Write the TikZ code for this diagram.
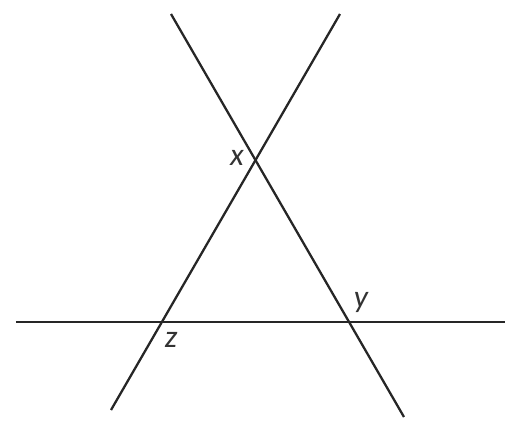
\documentclass[tikz,border=0pt]{standalone}
\usepackage{fontspec}
\setmainfont{Carlito}
\usetikzlibrary{positioning}

\begin{document}
\begin{tikzpicture}[x=0.02cm,y=-0.02cm,
    line/.style={line width=1.3pt, black!85},
    lbl/.style={font=\fontsize{18}{21}\selectfont\itshape, text=black!80, inner sep=0pt}]
        \useasboundingbox (0,0) rectangle (512,423);
        \coordinate (A1) at (171,14);
        \coordinate (A2) at (404,417);
        \coordinate (B1) at (340,14);
        \coordinate (B2) at (111,410);
        \coordinate (C1) at (16,322);
        \coordinate (C2) at (505,322);
        \draw[line] (A1) -- (A2);
        \draw[line] (B1) -- (B2);
        \draw[line] (C1) -- (C2);
        \node[lbl] (x) at (237,158) {x};
        \node[lbl] (y) at (361,302) {y};
        \node[lbl] (z) at (171,340) {z};
    \end{tikzpicture}
\end{document}
